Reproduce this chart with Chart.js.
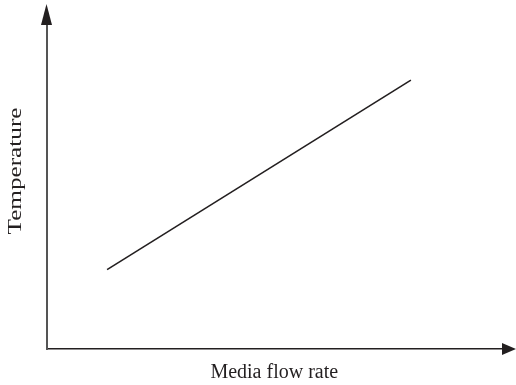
<!DOCTYPE html>
<html>
<head>
<meta charset="utf-8">
<script src="https://cdn.jsdelivr.net/npm/chart.js@4.4.0/dist/chart.umd.min.js"></script>
<style>
 body{margin:0;background:#fff;}
</style>
</head>
<body>
<canvas id="myChart" width="516" height="385"></canvas>
<script>
// data (arbitrary units, no ticks shown)
const flowRate = [1.33, 8.0];
const temperature = [2.45, 8.3];
const xTitle = 'Media flow rate';
const yTitle = 'Temperature';

// arrow heads at the ends of the axes + the y title (drawn a bit stretched like the original)
const arrows = {
 id: 'arrows',
 afterDraw(chart){
  const ctx = chart.ctx;
  const a = chart.chartArea;
  ctx.save();
  ctx.fillStyle = '#231f20';
  // up arrow
  ctx.beginPath();
  ctx.moveTo(a.left, 4);
  ctx.lineTo(a.left - 5.5, a.top);
  ctx.lineTo(a.left + 5.5, a.top);
  ctx.closePath();
  ctx.fill();
  // right arrow
  ctx.beginPath();
  ctx.moveTo(516, a.bottom);
  ctx.lineTo(a.right, a.bottom - 6);
  ctx.lineTo(a.right, a.bottom + 6);
  ctx.closePath();
  ctx.fill();
  // y title
  ctx.translate(16, 171);
  ctx.rotate(-Math.PI / 2);
  ctx.scale(1.4, 1);
  ctx.font = '18px "Liberation Serif", serif';
  ctx.textAlign = 'center';
  ctx.textBaseline = 'middle';
  ctx.fillText(yTitle, 0, 0);
  ctx.restore();
 }
};

const ctx = document.getElementById('myChart').getContext('2d');
const myChart = new Chart(ctx, {
 type: 'line',
 data: {
  datasets: [{
   data: flowRate.map((x, i) => ({x: x, y: temperature[i]})),
   borderColor: '#231f20',
   borderWidth: 1.6,
   pointRadius: 0,
   fill: false
  }]
 },
 options: {
  responsive: false,
  animation: false,
  layout: {padding: {left: 38.5, right: 14, top: 25, bottom: 0}},
  plugins: {legend: {display: false}, tooltip: {enabled: false}},
  scales: {
   x: {
    type: 'linear', min: 0, max: 10,
    grid: {display: false},
    border: {display: true, color: '#231f20', width: 1.5},
    ticks: {display: false},
    title: {display: true, text: xTitle, color: '#231f20',
     font: {family: '"Liberation Serif", serif', size: 20}, padding: {top: 4, bottom: 0}}
   },
   y: {
    type: 'linear', min: 0, max: 10,
    grid: {display: false},
    border: {display: true, color: '#555', width: 2},
    ticks: {display: false}
   }
  }
 },
 plugins: [arrows]
});
</script>
</body>
</html>
